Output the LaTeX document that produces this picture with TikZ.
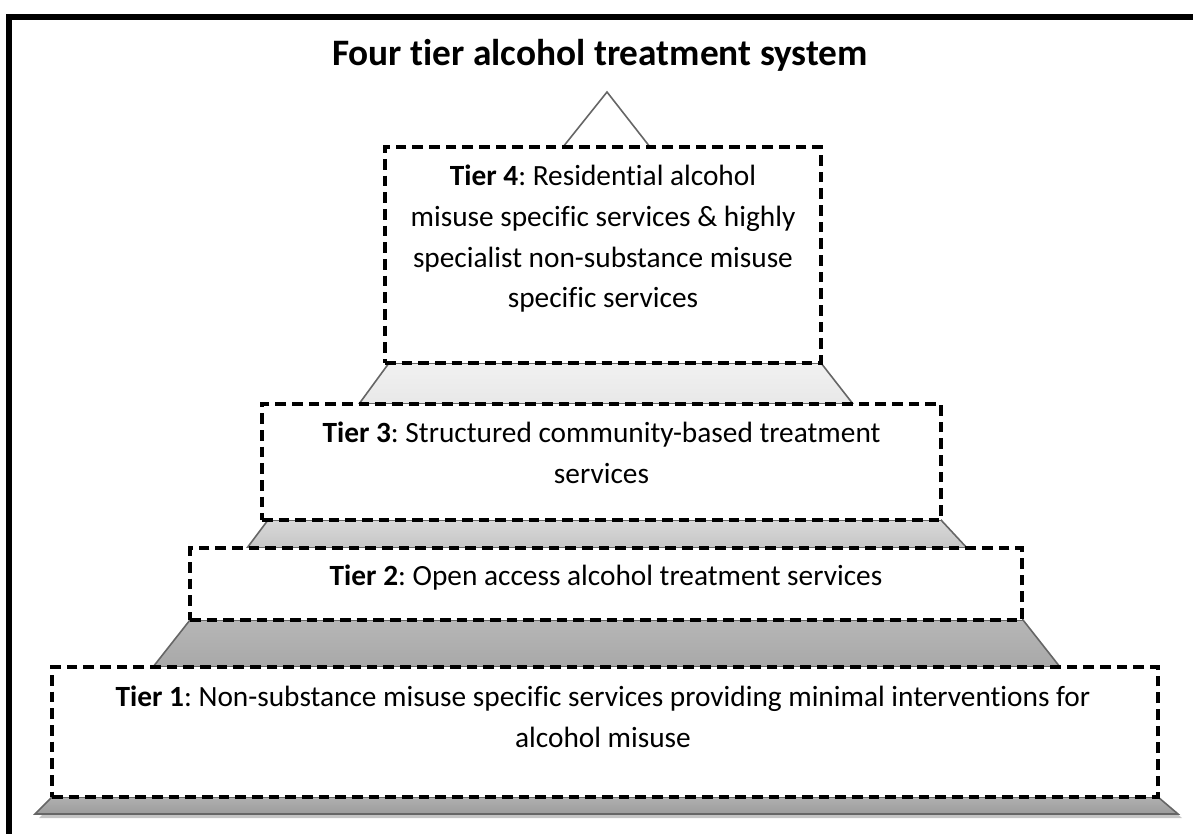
\documentclass[tikz,border=0pt]{standalone}
\usepackage{fontspec}
\setmainfont{Carlito}[Ligatures=NoCommon]
\frenchspacing
\definecolor{edgegray}{HTML}{666666}
\definecolor{shadowgray}{HTML}{C4C4C4}
\begin{document}
\begin{tikzpicture}[x=0.75pt,y=-0.75pt,
  tierbox/.style={draw=black, fill=white, line width=2.3pt, dash pattern=on 8pt off 4.5pt, rectangle, inner sep=0pt, outer sep=0pt},
  tiertext/.style={align=center, inner sep=0pt, anchor=base, font=\fontsize{22}{30.5}\selectfont},
  trapedge/.style={draw=edgegray, line width=1.2pt, line join=miter},
  frameline/.style={line width=4.5pt, draw=black}]
\path[use as bounding box] (0,0) rectangle (1193,834);

% outer frame
\draw[frameline] (8.5,834) -- (8.5,17) -- (1193,17);

% title
\node[font=\fontsize{28}{32}\selectfont\bfseries, anchor=base, inner sep=0pt] (title) at (600,66) {Four tier alcohol treatment system};

% top triangle
\draw[trapedge, fill=white] (563,147) -- (607,92) -- (650,147);

% base trapezoid shadow and trapezoids
\fill[shadowgray] (39,818) -- (56,801) -- (1162,801) -- (1182,818) -- cycle;
\path[trapedge, top color=gray!62, bottom color=gray!78] (52,797) -- (1158,797) -- (1178,814) -- (35,814) -- cycle;
\path[trapedge, top color=gray!57, bottom color=gray!68] (190,620) -- (1023,620) -- (1060,667) -- (153,667) -- cycle;
\path[trapedge, top color=gray!30, bottom color=gray!45] (268,520) -- (941,520) -- (967,548) -- (247,548) -- cycle;
\path[trapedge, top color=gray!11, bottom color=gray!18] (389,363) -- (821,363) -- (853,404) -- (359,404) -- cycle;

% tier boxes
\node[tierbox, minimum width=436*0.75pt, minimum height=216*0.75pt] (t4) at (603,255) {};
\node[tierbox, minimum width=679*0.75pt, minimum height=116*0.75pt] (t3) at (601.5,462) {};
\node[tierbox, minimum width=832*0.75pt, minimum height=72*0.75pt] (t2) at (606,584) {};
\node[tierbox, minimum width=1106*0.75pt, minimum height=130*0.75pt] (t1) at (605,732) {};

% texts (base anchor = baseline of the last line)
\node[tiertext] (l4) at (603,308) {\textbf{Tier 4}: Residential alcohol\\misuse specific services \& highly\\specialist non-substance misuse\\specific services};
\node[tiertext] (l3) at (601.5,483) {\textbf{Tier 3}: Structured community-based treatment\\services};
\node[tiertext] (l2) at (606,585) {\textbf{Tier 2}: Open access alcohol treatment services};
\node[tiertext] (l1) at (603,747) {\textbf{Tier 1}: Non-substance misuse specific services providing minimal interventions for\\alcohol misuse};
\end{tikzpicture}
\end{document}
